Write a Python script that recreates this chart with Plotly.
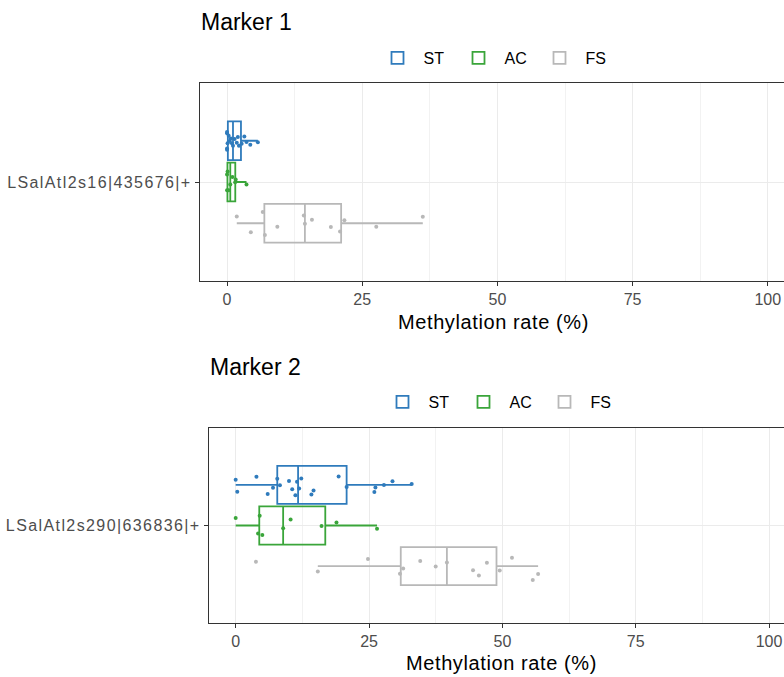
import plotly.graph_objects as go

# ---------------- data ----------------
groups = ["ST", "AC", "FS"]
colors = {"ST": "#2f7bbc", "AC": "#3aa53a", "FS": "#b8b8b8"}

marker1_label = "LSalAtl2s16|435676|+"
marker1_ST = [0.0, 0.0, 0.0, 0.0, 0.1, 0.3, 0.5, 0.7, 0.9, 1.1, 1.4, 1.8, 2.0, 2.2, 2.7, 3.2, 3.6, 4.3, 5.7]
marker1_AC = [0.0, 0.0, 0.1, 0.3, 0.6, 1.0, 1.5, 1.6, 3.6]
marker1_FS = [1.8, 4.4, 6.6, 7.0, 9.3, 14.2, 14.4, 15.7, 19.2, 20.9, 21.7, 27.6, 36.2]

marker2_label = "LSalAtl2s290|636836|+"
marker2_ST = [0.0, 0.3, 3.9, 6.0, 7.0, 7.8, 8.3, 10.0, 10.6, 11.2, 11.5, 11.9, 12.3, 14.2,
              14.6, 19.3, 20.8, 26.0, 26.2, 27.8, 29.4, 33.0]
marker2_AC = [0.0, 4.2, 4.5, 5.0, 8.9, 10.3, 16.1, 18.9, 26.5]
marker2_FS = [3.8, 15.4, 24.8, 30.8, 31.4, 34.6, 37.5, 39.6, 44.5, 45.6, 47.1, 49.5, 51.8, 55.7, 56.7]

x_ticks = [0, 25, 50, 75, 100]
x_title = "Methylation rate (%)"
panel_titles = ["Marker 1", "Marker 2"]

# ---------------- figure ----------------
W, H = 784, 677
FONT = "Liberation Sans, Arial, sans-serif"

def py(px):
    return 1 - px / H

def pxx(px):
    return px / W

def spaced(s, sp):
    return '<span style="letter-spacing:%.1fpx">%s</span>' % (sp, s)

fig = go.Figure()

panels = [
    dict(label=marker1_label, data={"ST": marker1_ST, "AC": marker1_AC, "FS": marker1_FS},
         xa="x", ya="y", legend="legend", ag="m1"),
    dict(label=marker2_label, data={"ST": marker2_ST, "AC": marker2_AC, "FS": marker2_FS},
         xa="x2", ya="y2", legend="legend2", ag="m2"),
]

for p in panels:
    # add in reverse so ST sits on top of the dodge group
    for g in reversed(groups):
        vals = p["data"][g]
        fig.add_trace(go.Box(
            x=vals, y=[p["label"]] * len(vals), name=g, orientation="h",
            xaxis=p["xa"], yaxis=p["ya"], legend=p["legend"],
            alignmentgroup=p["ag"], offsetgroup=g,
            line=dict(color=colors[g], width=1.8),
            fillcolor="rgba(255,255,255,0)",
            boxpoints="all", jitter=0.75, pointpos=0,
            marker=dict(color=colors[g], size=4),
            whiskerwidth=0, quartilemethod="linear",
            hoverinfo="x",
        ))

axis_common = dict(
    showgrid=True, gridcolor="#EBEBEB", gridwidth=1, zeroline=False,
    ticks="outside", ticklen=4, tickcolor="#333333", tickwidth=1,
    tickfont=dict(family=FONT, size=16, color="#4D4D4D"),
    showline=True, linecolor="#333333", linewidth=1.4,
)

# panel geometry (pixels)
top = dict(l=200, t=83, b=281)
bot = dict(l=209, t=428, b=623)

minor = dict(dtick=12.5, tick0=0, showgrid=True, gridcolor="#F2F2F2", gridwidth=1)

legend_common = dict(orientation="h", xanchor="center", yanchor="middle",
                     font=dict(family=FONT, size=16, color="#000000"), traceorder="reversed",
                     bgcolor="rgba(0,0,0,0)", entrywidth=24, itemwidth=42)

fig.update_layout(
    width=W, height=H, margin=dict(l=0, r=0, t=0, b=0),
    paper_bgcolor="white", plot_bgcolor="white",
    boxmode="group", boxgap=0.25, boxgroupgap=0.06,
    font=dict(family=FONT, color="#000000"),
    xaxis=dict(axis_common, domain=[pxx(top["l"]), 1], range=[-5, 103], anchor="y",
               tickvals=x_ticks, mirror=True, minor=minor),
    yaxis=dict(axis_common, domain=[py(top["b"]), py(top["t"])], anchor="x",
               range=[-0.6, 0.6], type="category",
               tickvals=[marker1_label], ticktext=[spaced(marker1_label, 1.4)]),
    xaxis2=dict(axis_common, domain=[pxx(bot["l"]), 1], range=[-5, 102.8], anchor="y2",
                tickvals=x_ticks, mirror=True, minor=minor),
    yaxis2=dict(axis_common, domain=[py(bot["b"]), py(bot["t"])], anchor="x2",
                range=[-0.6, 0.6], type="category",
                tickvals=[marker2_label], ticktext=[spaced(marker2_label, 1.4)]),
    legend=dict(legend_common, x=pxx(493), y=py(58)),
    legend2=dict(legend_common, x=pxx(498), y=py(402)),
    showlegend=True,
)

annotations = [
    dict(text=panel_titles[0], x=pxx(199), y=py(22), xanchor="left", yanchor="middle",
         font=dict(family=FONT, size=23, color="#000000")),
    dict(text=panel_titles[1], x=pxx(208), y=py(367), xanchor="left", yanchor="middle",
         font=dict(family=FONT, size=23, color="#000000")),
    dict(text=spaced(x_title, 0.6), x=pxx(494), y=py(322), xanchor="center", yanchor="middle",
         font=dict(family=FONT, size=20, color="#000000")),
    dict(text=spaced(x_title, 0.6), x=pxx(501), y=py(663), xanchor="center", yanchor="middle",
         font=dict(family=FONT, size=20, color="#000000")),
]
for a in annotations:
    a.update(xref="paper", yref="paper", showarrow=False)
fig.update_layout(annotations=annotations)

fig.write_html("out.html")
